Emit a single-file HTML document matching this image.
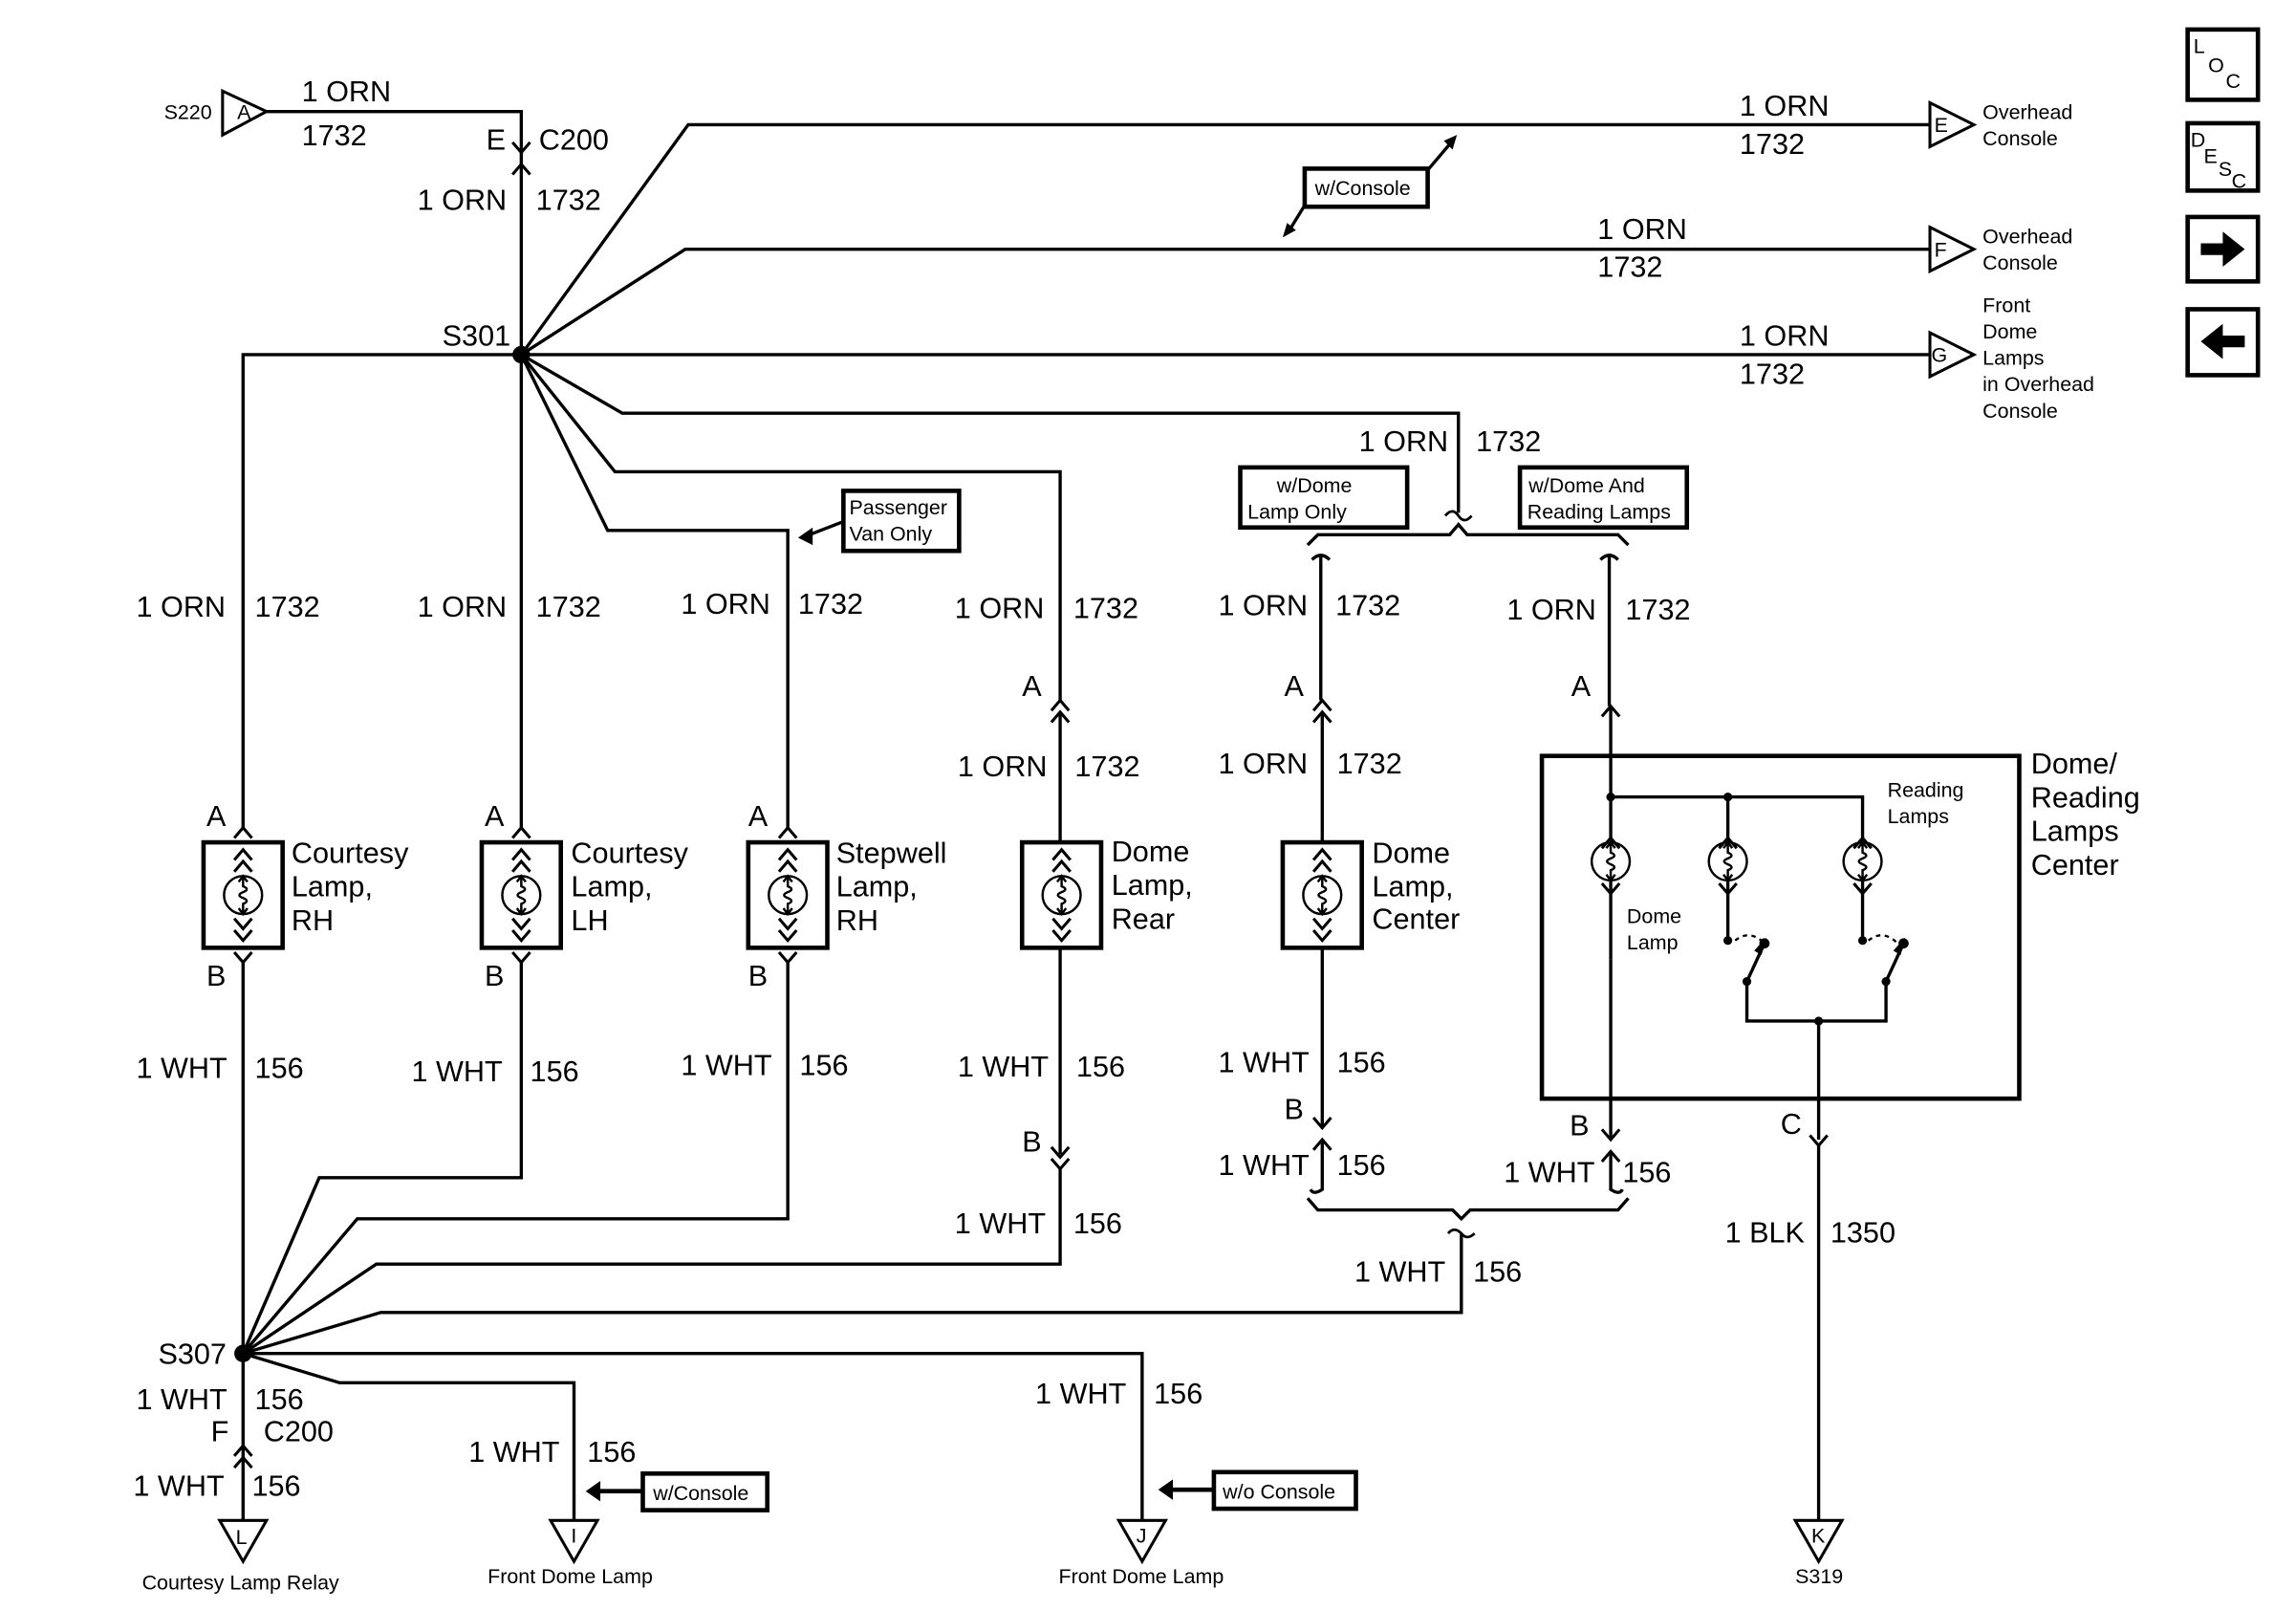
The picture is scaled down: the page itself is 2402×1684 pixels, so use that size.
<!DOCTYPE html>
<html><head><meta charset="utf-8"><style>
html,body{margin:0;padding:0;background:#fff}
svg{display:block}
text{font-family:"Liberation Sans",Arial,sans-serif;fill:#000}
.w{font-size:20px}
.s{font-size:14px}
.c{font-size:20px}
</style></head><body>
<svg width="2402" height="1684" viewBox="0 0 1568 1099" xmlns="http://www.w3.org/2000/svg">
<defs>
<g id="lamp" fill="none" stroke="#000" stroke-width="1.6">
<circle r="13"/>
<path d="M0,-13 L0,-6 q5,2 0,4 q-5,2 0,4 q5,2 0,4 L0,13"/>
<path d="M-3,-9 L0,-13 L3,-9 M-3,9 L0,13 L3,9"/>
</g>
<g id="cup" fill="none" stroke="#000" stroke-width="2"><path d="M-6,7 L0,0 L6,7"/></g>
<g id="cdn" fill="none" stroke="#000" stroke-width="2"><path d="M-6,-7 L0,0 L6,-7"/></g>
</defs>
<g fill="none" stroke="#000" stroke-width="2.2">
<path d="M152,62 L182,76 L152,92 Z" stroke-width="2"/>
<path d="M182,76 H356 V242"/>
<path d="M356,242 L470,85 H1318"/>
<path d="M356,242 L468,170 H1318"/>
<path d="M166,565 V242 H1318"/>
<path d="M356,242 L425,282 H996 V350"/>
<path d="M356,242 L420,322 H724 V478"/>
<path d="M356,242 L415,362 H538 V565"/>
<path d="M356,242 V565"/>
<path d="M1318,70 L1348,85 L1318,100 Z" stroke-width="2"/>
<path d="M1318,155 L1348,170 L1318,185 Z" stroke-width="2"/>
<path d="M1318,227 L1348,242 L1318,257 Z" stroke-width="2"/>
<path d="M987,352 q5,-6 9,0 q4,6 9,0" stroke-width="1.8"/>
<path d="M893,372 L900,365 H990 L996,358 L1002,365 H1105 L1112,372"/>
<path d="M896,382 q6,-6 12,0 M902,380 V478"/>
<path d="M1093,382 q6,-6 12,0 M1099,380 V482"/>
<rect x="139" y="575" width="54" height="72" stroke-width="3"/>
<rect x="329" y="575" width="54" height="72" stroke-width="3"/>
<rect x="511" y="575" width="54" height="72" stroke-width="3"/>
<rect x="698" y="575" width="54" height="72" stroke-width="3"/>
<rect x="876" y="575" width="54" height="72" stroke-width="3"/>
<rect x="1053" y="516" width="326" height="234" stroke-width="3"/>
<path d="M724,486 V575 M903,486 V575"/>
<path d="M166,657 V924"/>
<path d="M356,657 V804 H218 L166,924"/>
<path d="M538,657 V832 H244 L166,924"/>
<path d="M724,647 V788 M724,798 V863 H257 L166,924"/>
<path d="M903,647 V770 M903,778 V812 q-6,4 -8,0 M1100,655 V778 M1100,786 V812 q6,4 8,0"/>
<path d="M893,818 L900,826 H992 L998,832 L1004,826 H1105 L1112,818"/>
<path d="M989,842 q4,-5 9,0 q4,5 9,0" stroke-width="1.8"/>
<path d="M998,842 V896 H260 L166,924"/>
<path d="M166,924 H780 V1038"/>
<path d="M166,924 L232,944 H392 V1038"/>
<path d="M166,924 V1038"/>
<path d="M150,1038 L182,1038 L166,1066 Z" stroke-width="2"/>
<path d="M376,1038 L408,1038 L392,1066 Z" stroke-width="2"/>
<path d="M764,1038 L796,1038 L780,1066 Z" stroke-width="2"/>
<path d="M1226,1038 L1258,1038 L1242,1066 Z" stroke-width="2"/>
<path d="M1100,482 V577 M1100,544 H1272 V577 M1180,544 V577"/>
<path d="M1100,600 V655 M1180,600 V642 M1272,600 V642"/>
<path d="M1193,670 V697 H1288 V670 M1242,697 V778"/>
<path d="M1193,670 L1205,644 M1288,670 L1300,644"/>
<path d="M1185,642 q10,-8 20,2 M1276,642 q10,-8 20,2" stroke-dasharray="3,3" stroke-width="1.5"/>
<path d="M1242,782 V1038"/>
<rect x="891" y="115" width="84" height="26" stroke-width="3"/>
<rect x="576" y="335" width="79" height="41" stroke-width="3"/>
<rect x="847" y="319" width="114" height="41" stroke-width="3"/>
<rect x="1038" y="319" width="114" height="41" stroke-width="3"/>
<rect x="439" y="1006" width="85" height="25" stroke-width="3"/>
<rect x="829" y="1005" width="97" height="25" stroke-width="3"/>
<path d="M975,116 L992,96 M891,140 L880,158"/>
<path d="M576,356 L550,366"/>
<path d="M439,1018 H404 M829,1017 H795" stroke-width="3"/>
<rect x="1494" y="20" width="48" height="48" stroke-width="3"/>
<rect x="1494" y="84" width="48" height="46" stroke-width="3"/>
<rect x="1494" y="148" width="48" height="44" stroke-width="3"/>
<rect x="1494" y="211" width="48" height="45" stroke-width="3"/>
</g>
<g fill="#000">
<circle cx="356" cy="242" r="6"/>
<circle cx="166" cy="924" r="6"/>
<circle cx="1100" cy="544" r="3"/><circle cx="1180" cy="544" r="3"/>
<circle cx="1180" cy="642" r="3"/><circle cx="1205" cy="644" r="3.5"/>
<circle cx="1193" cy="670" r="3"/><circle cx="1272" cy="642" r="3"/>
<circle cx="1300" cy="644" r="3.5"/><circle cx="1288" cy="670" r="3"/>
<circle cx="1242" cy="697" r="3"/>
<path d="M1203,652 L1206,640 L1198,649 Z M1298,652 L1301,640 L1293,649 Z"/>
<path d="M545,367 L555,360 L555,372 Z"/>
<path d="M995,92 L986,96 L992,102 Z M876,162 L879,152 L885,157 Z"/>
<path d="M400,1018 L410,1011 L410,1025 Z M791,1017 L801,1010 L801,1024 Z"/>
<path d="M1503,166 H1518 V158 L1533,170 L1518,182 V174 H1503 Z"/>
<path d="M1533,229 H1518 V221 L1503,233 L1518,245 V237 H1533 Z"/>
</g>
<use href="#cdn" x="356" y="104"/><use href="#cup" x="356" y="112"/>
<use href="#cup" x="166" y="565"/><use href="#cup" x="356" y="565"/><use href="#cup" x="538" y="565"/>
<use href="#cup" x="724" y="478"/><use href="#cup" x="724" y="486"/>
<use href="#cup" x="903" y="478"/><use href="#cup" x="903" y="486"/>
<use href="#cup" x="1100" y="482"/>
<use href="#cdn" x="166" y="657"/><use href="#cdn" x="356" y="657"/><use href="#cdn" x="538" y="657"/>
<use href="#cdn" x="724" y="790"/><use href="#cdn" x="724" y="798"/>
<use href="#cdn" x="903" y="770"/><use href="#cup" x="903" y="778"/>
<use href="#cdn" x="1100" y="778"/><use href="#cup" x="1100" y="786"/>
<use href="#cdn" x="1242" y="782"/>
<use href="#cup" x="166" y="987"/><use href="#cup" x="166" y="995"/>
<g>
<use href="#cup" x="166" y="580"/><use href="#cup" x="166" y="588"/><use href="#lamp" x="166" y="611"/><use href="#cdn" x="166" y="634"/><use href="#cdn" x="166" y="642"/>
<use href="#cup" x="356" y="580"/><use href="#cup" x="356" y="588"/><use href="#lamp" x="356" y="611"/><use href="#cdn" x="356" y="634"/><use href="#cdn" x="356" y="642"/>
<use href="#cup" x="538" y="580"/><use href="#cup" x="538" y="588"/><use href="#lamp" x="538" y="611"/><use href="#cdn" x="538" y="634"/><use href="#cdn" x="538" y="642"/>
<use href="#cup" x="725" y="580"/><use href="#cup" x="725" y="588"/><use href="#lamp" x="725" y="611"/><use href="#cdn" x="725" y="634"/><use href="#cdn" x="725" y="642"/>
<use href="#cup" x="903" y="580"/><use href="#cup" x="903" y="588"/><use href="#lamp" x="903" y="611"/><use href="#cdn" x="903" y="634"/><use href="#cdn" x="903" y="642"/>
<use href="#cup" x="1100" y="572"/><use href="#lamp" x="1100" y="588"/><use href="#cdn" x="1100" y="610"/>
<use href="#cup" x="1180" y="572"/><use href="#lamp" x="1180" y="588"/><use href="#cdn" x="1180" y="610"/>
<use href="#cup" x="1272" y="572"/><use href="#lamp" x="1272" y="588"/><use href="#cdn" x="1272" y="610"/>
</g>
<text class="s" x="112" y="81">S220</text>
<text class="s" x="162" y="81">A</text>
<text class="w" x="206" y="69">1 ORN</text>
<text class="w" x="206" y="99">1732</text>
<text class="w" x="332" y="102">E</text>
<text class="w" x="368" y="102">C200</text>
<text class="w" x="285" y="143">1 ORN</text><text class="w" x="366" y="143">1732</text>
<text class="w" x="302" y="236">S301</text>
<text class="w" x="1188" y="79">1 ORN</text><text class="w" x="1188" y="105">1732</text>
<text class="w" x="1091" y="163">1 ORN</text><text class="w" x="1091" y="189">1732</text>
<text class="w" x="1188" y="236">1 ORN</text><text class="w" x="1188" y="262">1732</text>
<text class="s" x="1321" y="90">E</text><text class="s" x="1321" y="175">F</text><text class="s" x="1319" y="247">G</text>
<text class="s" x="1354" y="81">Overhead</text><text class="s" x="1354" y="99">Console</text>
<text class="s" x="1354" y="166">Overhead</text><text class="s" x="1354" y="184">Console</text>
<text class="s" x="1354" y="213">Front</text><text class="s" x="1354" y="231">Dome</text><text class="s" x="1354" y="249">Lamps</text><text class="s" x="1354" y="267">in Overhead</text><text class="s" x="1354" y="285">Console</text>
<text class="s" x="898" y="133">w/Console</text>
<text class="s" x="580" y="351">Passenger</text><text class="s" x="580" y="369">Van Only</text>
<text class="s" x="872" y="336">w/Dome</text><text class="s" x="852" y="354">Lamp Only</text>
<text class="s" x="1044" y="336">w/Dome And</text><text class="s" x="1043" y="354">Reading Lamps</text>
<text class="w" x="928" y="308">1 ORN</text><text class="w" x="1008" y="308">1732</text>
<text class="w" x="93" y="421">1 ORN</text><text class="w" x="174" y="421">1732</text>
<text class="w" x="285" y="421">1 ORN</text><text class="w" x="366" y="421">1732</text>
<text class="w" x="465" y="419">1 ORN</text><text class="w" x="545" y="419">1732</text>
<text class="w" x="652" y="422">1 ORN</text><text class="w" x="733" y="422">1732</text>
<text class="w" x="832" y="420">1 ORN</text><text class="w" x="912" y="420">1732</text>
<text class="w" x="1029" y="423">1 ORN</text><text class="w" x="1110" y="423">1732</text>
<text class="w" x="698" y="475">A</text><text class="w" x="877" y="475">A</text><text class="w" x="1073" y="475">A</text>
<text class="w" x="654" y="530">1 ORN</text><text class="w" x="734" y="530">1732</text>
<text class="w" x="832" y="528">1 ORN</text><text class="w" x="913" y="528">1732</text>
<text class="w" x="141" y="564">A</text><text class="w" x="331" y="564">A</text><text class="w" x="511" y="564">A</text>
<text class="c" x="199" y="589">Courtesy</text><text class="c" x="199" y="612">Lamp,</text><text class="c" x="199" y="635">RH</text>
<text class="c" x="390" y="589">Courtesy</text><text class="c" x="390" y="612">Lamp,</text><text class="c" x="390" y="635">LH</text>
<text class="c" x="571" y="589">Stepwell</text><text class="c" x="571" y="612">Lamp,</text><text class="c" x="571" y="635">RH</text>
<text class="c" x="759" y="588">Dome</text><text class="c" x="759" y="611">Lamp,</text><text class="c" x="759" y="634">Rear</text>
<text class="c" x="937" y="589">Dome</text><text class="c" x="937" y="612">Lamp,</text><text class="c" x="937" y="634">Center</text>
<text class="c" x="1387" y="528">Dome/</text><text class="c" x="1387" y="551">Reading</text><text class="c" x="1387" y="574">Lamps</text><text class="c" x="1387" y="597">Center</text>
<text class="s" x="1289" y="544">Reading</text><text class="s" x="1289" y="562">Lamps</text>
<text class="s" x="1111" y="630">Dome</text><text class="s" x="1111" y="648">Lamp</text>
<text class="w" x="141" y="673">B</text><text class="w" x="331" y="673">B</text><text class="w" x="511" y="673">B</text>
<text class="w" x="93" y="736">1 WHT</text><text class="w" x="174" y="736">156</text>
<text class="w" x="281" y="738">1 WHT</text><text class="w" x="362" y="738">156</text>
<text class="w" x="465" y="734">1 WHT</text><text class="w" x="546" y="734">156</text>
<text class="w" x="654" y="735">1 WHT</text><text class="w" x="735" y="735">156</text>
<text class="w" x="832" y="732">1 WHT</text><text class="w" x="913" y="732">156</text>
<text class="w" x="698" y="786">B</text><text class="w" x="877" y="764">B</text>
<text class="w" x="1072" y="775">B</text><text class="w" x="1216" y="774">C</text>
<text class="w" x="832" y="802">1 WHT</text><text class="w" x="913" y="802">156</text>
<text class="w" x="1027" y="807">1 WHT</text><text class="w" x="1108" y="807">156</text>
<text class="w" x="652" y="842">1 WHT</text><text class="w" x="733" y="842">156</text>
<text class="w" x="925" y="875">1 WHT</text><text class="w" x="1006" y="875">156</text>
<text class="w" x="1178" y="848">1 BLK</text><text class="w" x="1250" y="848">1350</text>
<text class="w" x="108" y="931">S307</text>
<text class="w" x="93" y="962">1 WHT</text><text class="w" x="174" y="962">156</text>
<text class="w" x="144" y="984">F</text><text class="w" x="180" y="984">C200</text>
<text class="w" x="91" y="1021">1 WHT</text><text class="w" x="172" y="1021">156</text>
<text class="w" x="320" y="998">1 WHT</text><text class="w" x="401" y="998">156</text>
<text class="w" x="707" y="958">1 WHT</text><text class="w" x="788" y="958">156</text>
<text class="s" x="446" y="1024">w/Console</text>
<text class="s" x="835" y="1023">w/o Console</text>
<text class="s" x="161" y="1054">L</text><text class="s" x="390" y="1053">I</text><text class="s" x="776" y="1053">J</text><text class="s" x="1237" y="1053">K</text>
<text class="s" x="97" y="1085">Courtesy Lamp Relay</text>
<text class="s" x="333" y="1081">Front Dome Lamp</text>
<text class="s" x="723" y="1081">Front Dome Lamp</text>
<text class="s" x="1226" y="1081">S319</text>
<text class="s" x="1498" y="36">L</text><text class="s" x="1508" y="49">O</text><text class="s" x="1520" y="60">C</text>
<text class="s" x="1496" y="100">D</text><text class="s" x="1505" y="111">E</text><text class="s" x="1515" y="120">S</text><text class="s" x="1524" y="128">C</text>
</svg>
</body></html>
